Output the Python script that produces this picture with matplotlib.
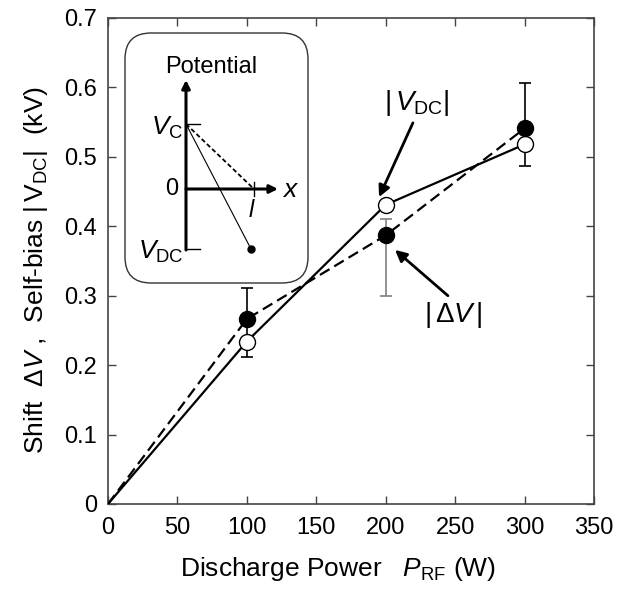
import matplotlib
matplotlib.use('Agg')
import matplotlib.pyplot as plt
from matplotlib.patches import FancyBboxPatch
import numpy as np

plt.rcParams['font.family'] = ['Liberation Sans', 'DejaVu Sans']
plt.rcParams['mathtext.fontset'] = 'custom'
plt.rcParams['mathtext.rm'] = 'Liberation Sans'
plt.rcParams['mathtext.it'] = 'Liberation Sans:italic'

# data
power = [0, 100, 200, 300]
vdc = [0, 0.234, 0.431, 0.518]      # |V_DC|, open circles, solid line
dv = [0, 0.2665, 0.387, 0.541]      # |dV|, filled circles, dashed line
err_x = [100, 200, 300]
err_lo = [0.212, 0.300, 0.487]
err_hi = [0.311, 0.410, 0.607]
err_col = ['black', 'gray', 'black']

xticks = [0, 50, 100, 150, 200, 250, 300, 350]
yticks = [0, 0.1, 0.2, 0.3, 0.4, 0.5, 0.6, 0.7]
ytick_labels = ['0', '0.1', '0.2', '0.3', '0.4', '0.5', '0.6', '0.7']

W, H = 632, 590
fig = plt.figure(figsize=(W / 100, H / 100), dpi=100)
# axes box in pixels: left 108, right 594, top 18, bottom 504
ax = fig.add_axes([108 / W, 1 - 504 / H, 486 / W, 486 / H])

spine_col = '#444444'
for s in ax.spines.values():
    s.set_color(spine_col)
    s.set_linewidth(1.2)

# error bars
for x, lo, hi, c in zip(err_x, err_lo, err_hi, err_col):
    mid = (lo + hi) / 2
    ax.errorbar([x], [mid], yerr=[[mid - lo], [hi - mid]], fmt='none',
                ecolor=c, elinewidth=1.2, capsize=4, capthick=1.2, zorder=2)

ax.plot(power, vdc, '-', color='black', lw=1.6, zorder=3)
ax.plot(power, dv, '--', color='black', lw=1.6, dashes=(5, 2.5), zorder=3)
ax.plot(power[1:], vdc[1:], 'o', ms=11.5, mfc='white', mec='black', mew=1.0, zorder=4)
ax.plot(power[1:], dv[1:], 'o', ms=11.5, mfc='black', mec='black', zorder=5)

ax.set_xlim(0, 350)
ax.set_ylim(0, 0.7)
ax.set_xticks(xticks)
ax.set_yticks(yticks)
ax.set_yticklabels(ytick_labels)
ax.tick_params(direction='in', length=6, width=1, color=spine_col,
               top=True, right=True, labelsize=17, pad=8)
ax.tick_params(axis='x', pad=9)

# annotations: label text plus a separate arrow
arrow_kw = dict(arrowstyle='-|>', color='black', lw=2, mutation_scale=17,
                shrinkA=0, shrinkB=0)
ax.text(222, 0.577, r'$|\,\mathit{V}_{\mathrm{DC}}|$', fontsize=20,
        ha='center', va='center')
ax.annotate('', xy=(195.2, 0.442), xytext=(219.6, 0.549), arrowprops=arrow_kw)
ax.text(249, 0.272, r'$|\,\mathit{\Delta V}\,|$', fontsize=20,
        ha='center', va='center')
ax.annotate('', xy=(206.7, 0.366), xytext=(244.8, 0.300), arrowprops=arrow_kw)

fig.text(36 / W, 1 - 270 / H,
         r'Shift  $\mathit{\Delta V}$ ,  Self-bias $|\,\mathrm{V}_{\mathrm{DC}}|$  (kV)',
         rotation=90, ha='center', va='center', fontsize=19)
fig.text(338 / W, 1 - 569 / H, r'Discharge Power   $\mathit{P}_{\mathrm{RF}}$ (W)',
         ha='center', va='center', fontsize=19)

# inset schematic, drawn in pixel coordinates of the figure
ix0, ix1, iy0, iy1 = 118, 315, 26, 292
inset = fig.add_axes([ix0 / W, 1 - iy1 / H, (ix1 - ix0) / W, (iy1 - iy0) / H])
inset.set_xlim(ix0, ix1)
inset.set_ylim(iy1, iy0)
inset.axis('off')
inset.patch.set_alpha(0)

box = FancyBboxPatch((125, 33), 183, 250, boxstyle='round,pad=0,rounding_size=26',
                     fc='white', ec='#333333', lw=1.0)
inset.add_patch(box)

ox, oy = 186, 189        # origin of the sketch axes
vc_y, vdc_y = 124, 249   # V_C and V_DC levels
l_x = 254
dot = (251, 249)

inset.annotate('', xy=(ox, 80), xytext=(ox, vdc_y + 1),
               arrowprops=dict(arrowstyle='-|>', color='black', lw=2.2,
                               mutation_scale=12, shrinkA=0, shrinkB=0))
inset.annotate('', xy=(278, oy), xytext=(ox, oy),
               arrowprops=dict(arrowstyle='-|>', color='black', lw=2.2,
                               mutation_scale=12, shrinkA=0, shrinkB=0))
inset.plot([ox, 200], [vc_y, vc_y], color='black', lw=1)
inset.plot([ox, 200], [vdc_y, vdc_y], color='black', lw=1)
inset.plot([l_x, l_x], [oy - 7, oy + 7], color='black', lw=1)
inset.plot([ox, l_x], [vc_y, oy], '--', color='black', lw=1.3, dashes=(2.5, 1.5))
inset.plot([ox, dot[0]], [vc_y, dot[1]], '-', color='black', lw=0.8)
inset.plot([dot[0]], [dot[1]], 'o', color='black', ms=5)

inset.text(211, 67, 'Potential', ha='center', va='center', fontsize=17)
inset.text(183, 128, r'$\mathit{V}_{\mathrm{C}}$', ha='right', va='center', fontsize=19)
inset.text(178, 189, '0', ha='right', va='center', fontsize=17)
inset.text(184, 252, r'$\mathit{V}_{\mathrm{DC}}$', ha='right', va='center', fontsize=19)
inset.text(252, 211, r'$\mathit{l}$', ha='center', va='center', fontsize=17)
inset.text(291, 190, r'$\mathit{x}$', ha='center', va='center', fontsize=19)

fig.savefig('out.png', dpi=100)
